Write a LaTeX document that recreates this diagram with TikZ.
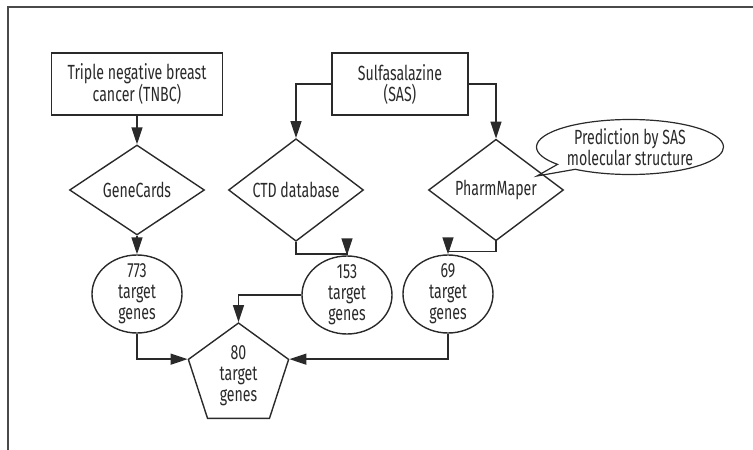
\documentclass[tikz,border=0pt]{standalone}
\usepackage{fontspec}
\setmainfont[FakeStretch=0.69]{Fira Sans}
\usepackage{xcolor}
\usetikzlibrary{arrows.meta,shapes,positioning,calc}
\definecolor{inkgray}{HTML}{2A2A2A}
\definecolor{framegray}{HTML}{4A4A4A}

\begin{document}
\begin{tikzpicture}[x=1pt, y=-1pt,
    every node/.style={text=inkgray, font=\fontsize{20.5}{21}\selectfont, align=center},
    box/.style={draw=inkgray, line width=1.4pt, rectangle, inner sep=0pt},
    dbase/.style={draw=inkgray, line width=1.4pt, diamond, inner sep=0pt,
      minimum width=135pt, minimum height=90pt},
    genes/.style={draw=inkgray, line width=1.4pt, ellipse, inner xsep=0pt, inner ysep=-7pt,
      minimum width=90pt, minimum height=78pt},
    arr/.style={draw=inkgray, line width=1.4pt, -{Triangle[width=11pt,length=17pt]}}]
      \useasboundingbox (0,0) rectangle (753,450);

      % Frame
      \draw[framegray, line width=1.2pt] (8,450) -- (8,7) -- (753,7);

      % Sources
      \node[box, minimum width=171pt, minimum height=62pt] (tnbc) at (137,84)
        {Triple negative breast\\cancer (TNBC)};
      \node[box, minimum width=136pt, minimum height=62pt] (sas) at (400,84)
        {Sulfasalazine\\(SAS)};

      % Databases
      \node[dbase] (genecards) at (137,190) {GeneCards};
      \node[dbase] (ctd) at (296,190) {CTD database};
      \node[dbase] (pharm) at (496,190) {PharmMaper};
      \node[draw=inkgray, line width=1.2pt, ellipse callout, inner sep=0pt,
        minimum width=187pt, minimum height=55pt,
        callout absolute pointer={(537,176)}] (predict) at (630,147)
        {Prediction by SAS\\molecular structure};

      % Target genes
      \node[genes] (g773) at (137,294) {773\\target\\genes};
      \node[genes] (g153) at (347,295) {153\\target\\genes};
      \node[genes] (g69) at (448,294) {69\\target\\genes};
      \node[draw=inkgray, line width=1.4pt, regular polygon, regular polygon sides=5,
        inner sep=0pt, minimum size=87.4pt] (common) at (238.5,375.7)
        {80\\target\\genes};

      \draw[arr] (tnbc.south) -- (genecards.north);
      \draw[arr] (sas.west) -| (ctd.north);
      \draw[arr] (sas.east) -| (pharm.north);
      \draw[arr] (genecards.south) -- (g773.north);
      \draw[arr] (ctd.south) -- ++(0,12) -| (g153.north);
      \draw[arr] (pharm.south) -- ++(0,10) -| (g69.north);
      \draw[arr] (g773.south) |- (common.corner 2);
      \draw[arr] (g153.west) -| (common.corner 1);
      \draw[arr] (g69.south) |- (common.corner 5);
    \end{tikzpicture}
\end{document}
